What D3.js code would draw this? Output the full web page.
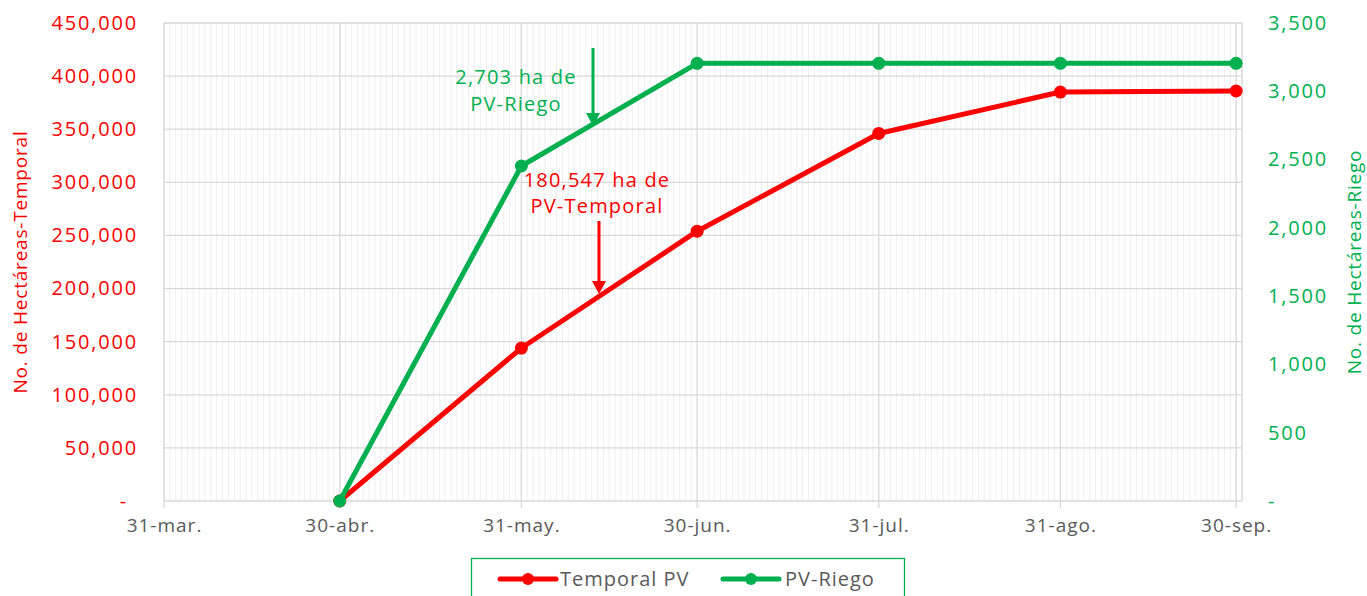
<!DOCTYPE html>
<html><head><meta charset="utf-8">
<script src="https://cdn.jsdelivr.net/npm/d3@7"></script>
<style>body{margin:0;background:#fff;}svg{display:block;font-family:"Open Sans",sans-serif;}</style>
</head><body><svg id="c" width="1367" height="596"></svg>
<script>
const dates = ["2023-04-30","2023-05-31","2023-06-30","2023-07-31","2023-08-31","2023-09-30"];
const temporal = [0,144000,254000,346000,385000,386000];
const riego = [0,2453,3205,3205,3205,3205];
const xTickDates = ["2023-03-31","2023-04-30","2023-05-31","2023-06-30","2023-07-31","2023-08-31","2023-09-30"];
const xTickLabels = ["31-mar.","30-abr.","31-may.","30-jun.","31-jul.","31-ago.","30-sep."];
const leftTicks = [0,50000,100000,150000,200000,250000,300000,350000,400000,450000];
const rightTicks = [0,500,1000,1500,2000,2500,3000,3500];
const seriesNames = ["Temporal PV","PV-Riego"];

const RED="#ff0000", GREEN="#00b050";
const parse = d3.timeParse("%Y-%m-%d");
const svg = d3.select("#c");
const L=164,R=1242,T=23,B=501;
const x = d3.scaleTime().domain([parse("2023-03-31"),parse("2023-10-01")]).range([L,R]);
const yL = d3.scaleLinear().domain([0,450000]).range([B,T]);
const yR = d3.scaleLinear().domain([0,3500]).range([B,T]);
const fmt = d3.format(",");

// minor daily gridlines
const days = d3.timeDay.range(parse("2023-03-31"), d3.timeDay.offset(parse("2023-10-01"),1));
svg.append("g").selectAll("line").data(days).join("line")
  .attr("x1",d=>x(d)).attr("x2",d=>x(d)).attr("y1",T).attr("y2",B)
  .attr("stroke","#efefef").attr("stroke-width",1);
// horizontal gridlines
svg.append("g").selectAll("line").data(leftTicks).join("line")
  .attr("x1",L).attr("x2",R).attr("y1",d=>yL(d)).attr("y2",d=>yL(d))
  .attr("stroke","#d9d9d9").attr("stroke-width",1.3);
// major vertical
svg.append("g").selectAll("line").data(xTickDates).join("line")
  .attr("x1",d=>x(parse(d))).attr("x2",d=>x(parse(d))).attr("y1",T).attr("y2",B+7)
  .attr("stroke","#d9d9d9").attr("stroke-width",1.3);
svg.append("line").attr("x1",R).attr("x2",R).attr("y1",T).attr("y2",B).attr("stroke","#d9d9d9").attr("stroke-width",1.3);

// x axis labels
const xAxis = d3.axisBottom(x).tickValues(xTickDates.map(parse)).tickFormat((d,i)=>xTickLabels[i]).tickSize(0).tickPadding(18);
const gx = svg.append("g").attr("transform",`translate(0,${B})`).call(xAxis);
gx.select(".domain").remove();
gx.selectAll("text").attr("fill","#595959").style("font-size","19px").style("letter-spacing","1px").style("font-family","'Open Sans',sans-serif");

// left axis
const gl = svg.append("g").attr("transform",`translate(${L-26},0)`)
  .call(d3.axisLeft(yL).tickValues(leftTicks).tickFormat(d=>d===0?"-":fmt(d)).tickSize(0).tickPadding(0));
gl.select(".domain").remove();
gl.selectAll("text").attr("fill",RED).style("font-size","20px").style("letter-spacing","1.8px").style("font-family","'Open Sans',sans-serif");
gl.selectAll(".tick").filter(d=>d===0).select("text").attr("dx",-10);

// right axis
const gr = svg.append("g").attr("transform",`translate(${R+26},0)`)
  .call(d3.axisRight(yR).tickValues(rightTicks).tickFormat(d=>d===0?"-":fmt(d)).tickSize(0).tickPadding(0));
gr.select(".domain").remove();
gr.selectAll("text").attr("fill",GREEN).style("font-size","20px").style("letter-spacing","1.8px").style("font-family","'Open Sans',sans-serif");

// axis titles
svg.append("text").attr("transform",`translate(27,${(T+B)/2}) rotate(-90)`).attr("text-anchor","middle")
  .attr("fill",RED).style("font-size","19px").style("letter-spacing","0.8px").text("No. de Hectáreas-Temporal");
svg.append("text").attr("transform",`translate(1361,${(T+B)/2}) rotate(-90)`).attr("text-anchor","middle")
  .attr("fill",GREEN).style("font-size","19px").style("letter-spacing","0.8px").text("No. de Hectáreas-Riego");

// lines
const lineL = d3.line().x((d,i)=>x(parse(dates[i]))).y(d=>yL(d));
const lineR = d3.line().x((d,i)=>x(parse(dates[i]))).y(d=>yR(d));
svg.append("path").datum(temporal).attr("d",lineL).attr("fill","none").attr("stroke",RED).attr("stroke-width",5).attr("stroke-linejoin","round");
svg.append("g").selectAll("circle").data(temporal).join("circle")
  .attr("cx",(d,i)=>x(parse(dates[i]))).attr("cy",d=>yL(d)).attr("r",6.5).attr("fill",RED);
svg.append("path").datum(riego).attr("d",lineR).attr("fill","none").attr("stroke",GREEN).attr("stroke-width",5).attr("stroke-linejoin","round");
svg.append("g").selectAll("circle").data(riego).join("circle")
  .attr("cx",(d,i)=>x(parse(dates[i]))).attr("cy",d=>yR(d)).attr("r",6.5).attr("fill",GREEN);

// annotations
function arrow(xp,y1,y2,col){
  svg.append("line").attr("x1",xp).attr("x2",xp).attr("y1",y1).attr("y2",y2-10).attr("stroke",col).attr("stroke-width",3);
  svg.append("path").attr("d",`M${xp-7},${y2-13}L${xp+7},${y2-13}L${xp},${y2}Z`).attr("fill",col);
}
const ag = svg.append("g").style("font-size","20px").style("letter-spacing","1.2px").attr("text-anchor","middle");
ag.append("text").attr("x",516).attr("y",84).attr("fill",GREEN).text("2,703 ha de");
ag.append("text").attr("x",516).attr("y",111).attr("fill",GREEN).text("PV-Riego");
arrow(593,48,126,GREEN);
ag.append("text").attr("x",597).attr("y",187).attr("fill",RED).text("180,547 ha de");
ag.append("text").attr("x",597).attr("y",213).attr("fill",RED).text("PV-Temporal");
arrow(599,221,294,RED);

// legend
svg.append("rect").attr("x",471.5).attr("y",558.5).attr("width",433).attr("height",50).attr("fill","#fff").attr("stroke",GREEN).attr("stroke-width",1.3);
const leg = svg.append("g");
[[RED,500,560],[GREEN,723,785]].forEach((c,i)=>{
  leg.append("line").attr("x1",c[1]).attr("x2",c[1]+56).attr("y1",579).attr("y2",579).attr("stroke",c[0]).attr("stroke-width",5).attr("stroke-linecap","round");
  leg.append("circle").attr("cx",c[1]+28).attr("cy",579).attr("r",6).attr("fill",c[0]);
  leg.append("text").attr("x",c[2]).attr("y",586).attr("fill","#595959").style("font-size","20px").style("letter-spacing","1px").text(seriesNames[i]);
});
</script></body></html>
